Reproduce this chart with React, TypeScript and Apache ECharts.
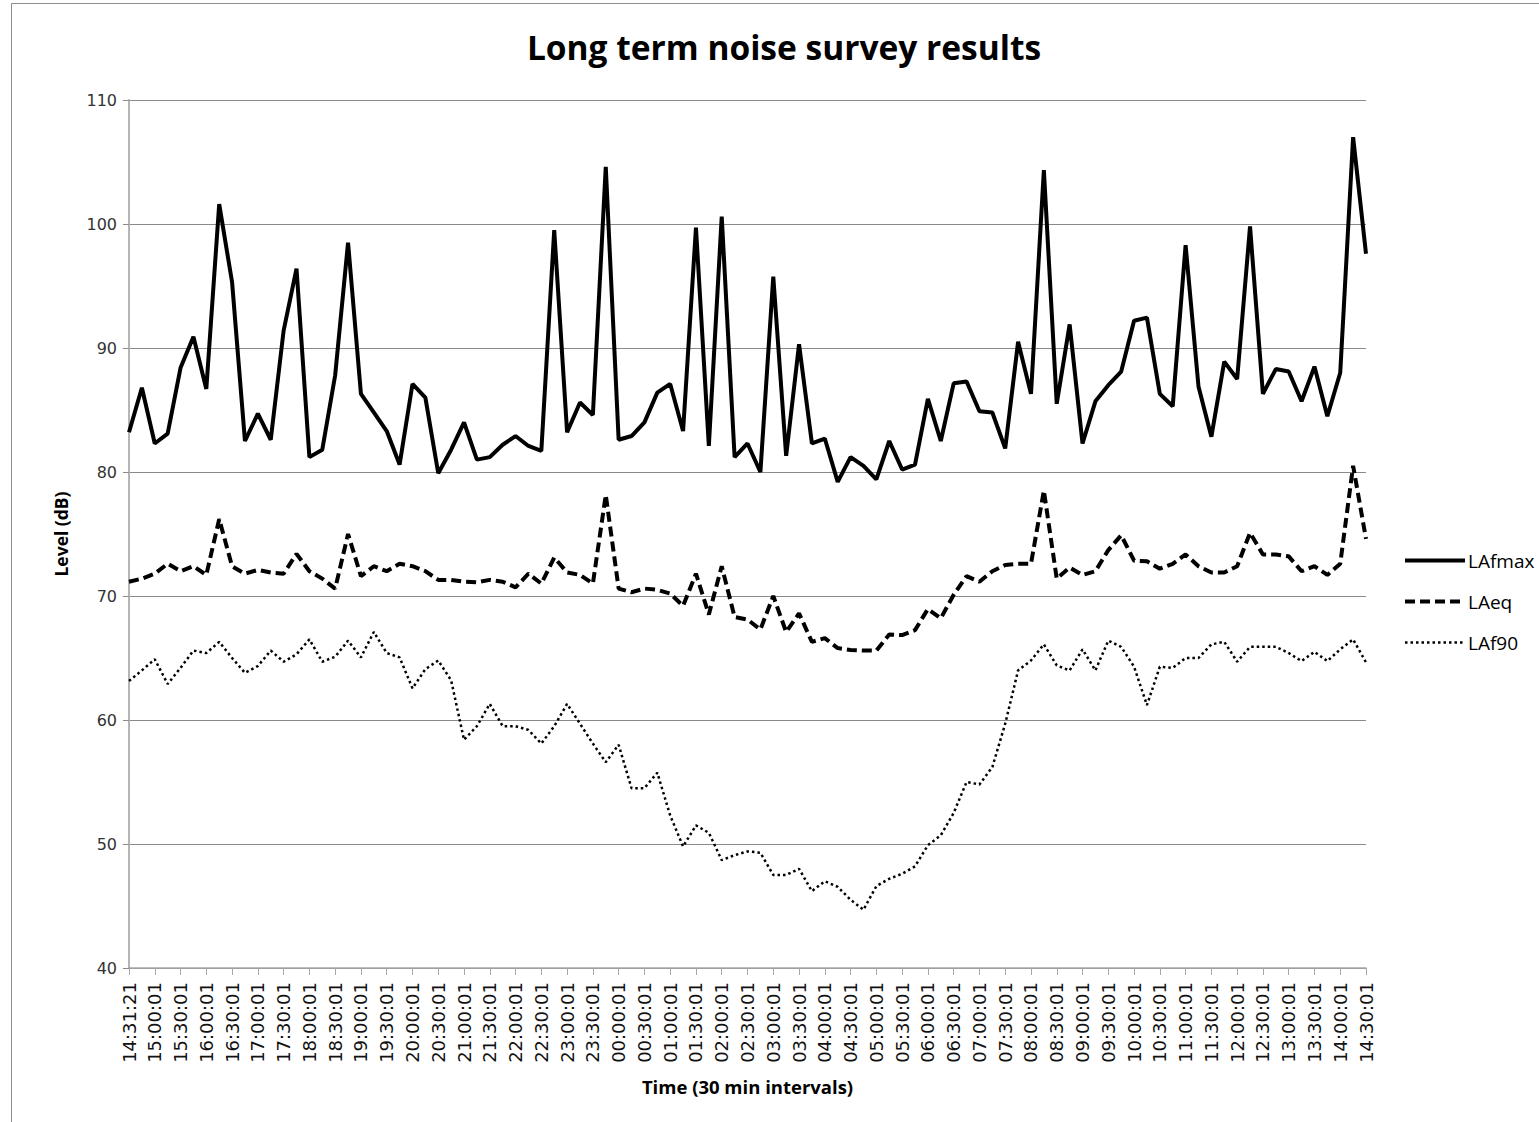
import React, { useEffect, useRef } from "react";
import * as echarts from "echarts";

const categories: string[] = [
  "14:31:21", "14:45:01", "15:00:01", "15:15:01", "15:30:01", "15:45:01", "16:00:01", "16:15:01",
  "16:30:01", "16:45:01", "17:00:01", "17:15:01", "17:30:01", "17:45:01", "18:00:01", "18:15:01",
  "18:30:01", "18:45:01", "19:00:01", "19:15:01", "19:30:01", "19:45:01", "20:00:01", "20:15:01",
  "20:30:01", "20:45:01", "21:00:01", "21:15:01", "21:30:01", "21:45:01", "22:00:01", "22:15:01",
  "22:30:01", "22:45:01", "23:00:01", "23:15:01", "23:30:01", "23:45:01", "00:00:01", "00:15:01",
  "00:30:01", "00:45:01", "01:00:01", "01:15:01", "01:30:01", "01:45:01", "02:00:01", "02:15:01",
  "02:30:01", "02:45:01", "03:00:01", "03:15:01", "03:30:01", "03:45:01", "04:00:01", "04:15:01",
  "04:30:01", "04:45:01", "05:00:01", "05:15:01", "05:30:01", "05:45:01", "06:00:01", "06:15:01",
  "06:30:01", "06:45:01", "07:00:01", "07:15:01", "07:30:01", "07:45:01", "08:00:01", "08:15:01",
  "08:30:01", "08:45:01", "09:00:01", "09:15:01", "09:30:01", "09:45:01", "10:00:01", "10:15:01",
  "10:30:01", "10:45:01", "11:00:01", "11:15:01", "11:30:01", "11:45:01", "12:00:01", "12:15:01",
  "12:30:01", "12:45:01", "13:00:01", "13:15:01", "13:30:01", "13:45:01", "14:00:01", "14:15:01",
  "14:30:01",
];

const lafmax: number[] = [
  83.2, 86.8, 82.3, 83.1, 88.4, 90.9, 86.7, 101.6, 95.3, 82.5,
  84.7, 82.6, 91.4, 96.4, 81.2, 81.8, 87.8, 98.5, 86.3, 84.8,
  83.3, 80.6, 87.1, 86.0, 79.9, 81.8, 84.0, 81.0, 81.2, 82.2,
  82.9, 82.1, 81.7, 99.5, 83.2, 85.6, 84.6, 104.6, 82.6, 82.9,
  84.0, 86.4, 87.1, 83.3, 99.7, 82.1, 100.6, 81.2, 82.3, 80.0,
  95.75, 81.3, 90.3, 82.3, 82.7, 79.2, 81.2, 80.5, 79.4, 82.5,
  80.2, 80.6, 85.9, 82.5, 87.15, 87.3, 84.9, 84.8, 81.9, 90.5,
  86.3, 104.35, 85.5, 91.9, 82.3, 85.7, 87.0, 88.1, 92.2, 92.45,
  86.3, 85.3, 98.3, 86.9, 82.85, 88.9, 87.5, 99.8, 86.3, 88.3,
  88.1, 85.7, 88.5, 84.5, 88.0, 107.0, 97.6,
];

const laeq: number[] = [
  71.15, 71.4, 71.8, 72.6, 72.0, 72.4, 71.7, 76.2, 72.4, 71.8,
  72.1, 71.9, 71.8, 73.4, 72.0, 71.4, 70.6, 75.0, 71.6, 72.4,
  72.0, 72.6, 72.4, 72.0, 71.3, 71.3, 71.15, 71.1, 71.3, 71.15,
  70.7, 71.8, 71.0, 73.1, 71.9, 71.7, 71.0, 78.15, 70.6, 70.3,
  70.6, 70.5, 70.2, 69.2, 71.8, 68.5, 72.4, 68.3, 68.1, 67.3,
  70.0, 67.1, 68.6, 66.3, 66.6, 65.8, 65.65, 65.6, 65.6, 66.9,
  66.85, 67.25, 68.95, 68.2, 70.1, 71.6, 71.15, 72.0, 72.5, 72.6,
  72.6, 78.5, 71.4, 72.3, 71.7, 72.0, 73.7, 74.9, 72.85, 72.8,
  72.2, 72.6, 73.35, 72.4, 71.9, 71.9, 72.4, 75.1, 73.35, 73.35,
  73.2, 72.0, 72.4, 71.7, 72.6, 80.5, 74.6,
];

const laf90: number[] = [
  63.15, 64.0, 64.9, 62.9, 64.2, 65.6, 65.4, 66.3, 65.0, 63.8,
  64.35, 65.6, 64.7, 65.3, 66.5, 64.7, 65.1, 66.4, 65.05, 67.1,
  65.4, 65.05, 62.55, 64.1, 64.8, 63.2, 58.4, 59.5, 61.3, 59.5,
  59.5, 59.2, 58.1, 59.5, 61.3, 59.7, 58.1, 56.6, 58.0, 54.5,
  54.5, 55.75, 52.3, 49.8, 51.5, 50.9, 48.7, 49.1, 49.4, 49.3,
  47.5, 47.5, 48.0, 46.2, 47.0, 46.55, 45.5, 44.7, 46.6, 47.2,
  47.6, 48.2, 49.9, 50.7, 52.5, 55.0, 54.8, 56.2, 59.7, 64.0,
  64.8, 66.1, 64.4, 64.0, 65.7, 64.0, 66.4, 65.9, 64.3, 61.2,
  64.3, 64.2, 65.0, 65.0, 66.1, 66.3, 64.7, 65.9, 65.9, 65.9,
  65.4, 64.75, 65.5, 64.75, 65.7, 66.5, 64.65,
];

const seriesNames: string[] = ["LAfmax", "LAeq", "LAf90"];

export default function App() {
  const ref = useRef<HTMLDivElement>(null);
  useEffect(() => {
    if (!ref.current) return;
    const chart = echarts.init(ref.current, undefined, { renderer: "svg" });
    const gridColor = "#8a8a8a";
    const styles = [
      { color: "#000", width: 4, type: "solid" as any },
      { color: "#000", width: 4, type: [10, 5] as any },
      { color: "#000", width: 2.5, type: [2.5, 3] as any },
    ];
    chart.setOption({
      animation: false,
      backgroundColor: "#ffffff",
      title: {
        text: "Long term noise survey results",
        left: 779,
        top: 25,
        textAlign: "center",
        textStyle: {
          fontFamily: "Open Sans",
          fontWeight: "bold",
          fontSize: 33.5,
          color: "#000",
        },
      },
      graphic: [
        {
          type: "rect",
          shape: { x: 11.5, y: 3.5, width: 1600, height: 1200 },
          style: { fill: "none", stroke: "#8c8c8c", lineWidth: 1 },
          silent: true,
        },
      ],
      legend: {
        orient: "vertical",
        left: 1398,
        top: 546,
        itemWidth: 60,
        itemHeight: 14,
        itemGap: 22,
        data: seriesNames.map((n, i) => ({ name: n, lineStyle: styles[i] })),
        itemStyle: { opacity: 0 },
        textStyle: { fontFamily: "Open Sans", fontSize: 19, color: "#000", padding: [0, 0, 0, -2] },
      },
      grid: { left: 129, right: 173, top: 100, bottom: 154, containLabel: false },
      xAxis: {
        type: "category",
        data: categories,
        boundaryGap: false,
        name: "Time (30 min intervals)",
        nameLocation: "middle",
        nameGap: 109,
        nameTextStyle: { fontFamily: "Open Sans", fontWeight: "bold", fontSize: 18.5, color: "#000" },
        axisLine: { lineStyle: { color: "#a6a6a6", width: 1.5 } },
        axisTick: { show: true, interval: 1, length: 7, lineStyle: { color: "#a6a6a6" } },
        axisLabel: {
          interval: 1,
          rotate: 90,
          margin: 14,
          fontFamily: "DejaVu Sans",
          fontSize: 18,
          color: "#111",
        },
        splitLine: { show: false },
      },
      yAxis: {
        type: "value",
        min: 40,
        max: 110,
        interval: 10,
        name: "Level (dB)",
        nameLocation: "middle",
        nameGap: 59,
        nameRotate: 90,
        nameTextStyle: { fontFamily: "Open Sans", fontWeight: "bold", fontSize: 17.5, color: "#000" },
        axisLine: { show: true, lineStyle: { color: "#b5b5b5", width: 2 } },
        axisTick: { show: true, length: 6, lineStyle: { color: gridColor } },
        axisLabel: { margin: 12, fontFamily: "DejaVu Sans", fontSize: 16, color: "#333" },
        splitLine: { show: true, lineStyle: { color: gridColor, width: 1 } },
      },
      series: [
        {
          name: seriesNames[0],
          type: "line",
          data: lafmax,
          symbol: "none",
          lineStyle: styles[0],
          itemStyle: { color: "#000" },
        },
        {
          name: seriesNames[1],
          type: "line",
          data: laeq,
          symbol: "none",
          lineStyle: styles[1],
          itemStyle: { color: "#000" },
        },
        {
          name: seriesNames[2],
          type: "line",
          data: laf90,
          symbol: "none",
          lineStyle: styles[2],
          itemStyle: { color: "#000" },
        },
      ],
    });
    return () => chart.dispose();
  }, []);
  return (
    <div
      ref={ref}
      style={{ position: "absolute", left: 0, top: 0, width: 1539, height: 1122 }}
    />
  );
}
